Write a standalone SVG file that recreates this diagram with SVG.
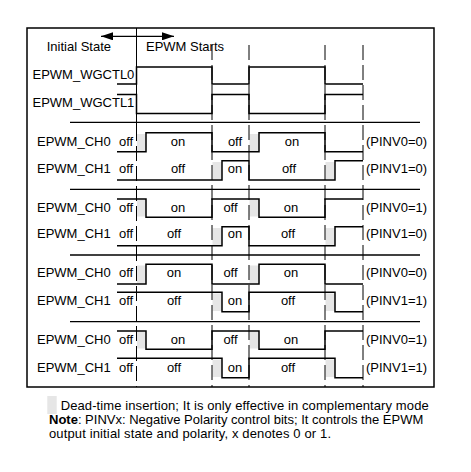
<svg xmlns="http://www.w3.org/2000/svg" width="471" height="472" viewBox="0 0 471 472">
<style>
text{font-family:"Liberation Sans",Arial,sans-serif;font-size:13px;fill:#000}
.w{fill:none;stroke:#000;stroke-width:1.5}
.sep{stroke:#000;stroke-width:1.3}
.dl{stroke:#000;stroke-width:1;stroke-dasharray:15 5}
.dt{fill:#e6e6e6}
.m{text-anchor:middle}
</style>
<defs>
<marker id="ah" viewBox="0 0 12 8" refX="12" refY="4" markerWidth="12" markerHeight="8" markerUnits="userSpaceOnUse" orient="auto-start-reverse">
<path d="M0,0 L12,4 L0,8 Z" fill="#000"/>
</marker>
</defs>
<rect x="0" y="0" width="471" height="472" fill="#fff"/>
<rect x="27" y="28" width="407" height="359" fill="none" stroke="#000" stroke-width="1.5"/>

<g id="deadtime-shading">
<rect class="dt" x="137" y="134" width="9" height="17"/>
<rect class="dt" x="249.5" y="134" width="9.5" height="17"/>
<rect class="dt" x="212.5" y="162" width="9.5" height="17"/>
<rect class="dt" x="325.5" y="162" width="9.5" height="17"/>
<rect class="dt" x="137" y="200" width="9" height="16.5"/>
<rect class="dt" x="249.5" y="200" width="9.5" height="16.5"/>
<rect class="dt" x="212.5" y="228" width="9.5" height="17"/>
<rect class="dt" x="325.5" y="228" width="9.5" height="17"/>
<rect class="dt" x="137" y="265.5" width="9" height="18"/>
<rect class="dt" x="249.5" y="265.5" width="9.5" height="18"/>
<rect class="dt" x="212.5" y="293.5" width="9.5" height="17.5"/>
<rect class="dt" x="325.5" y="293.5" width="9.5" height="17.5"/>
<rect class="dt" x="137" y="332" width="9" height="16.5"/>
<rect class="dt" x="249.5" y="332" width="9.5" height="16.5"/>
<rect class="dt" x="212.5" y="359.5" width="9.5" height="17.5"/>
<rect class="dt" x="325.5" y="359.5" width="9.5" height="17.5"/>
</g>

<g id="connectors">
<line x1="136.5" y1="28" x2="136.5" y2="126" stroke="#000" stroke-width="1"/>
<line class="dl" x1="136.5" y1="126" x2="136.5" y2="387"/>
<line class="dl" x1="212" y1="45" x2="212" y2="387"/>
<line class="dl" x1="249" y1="45" x2="249" y2="387"/>
<line class="dl" x1="325" y1="45" x2="325" y2="387"/>
<line class="dl" x1="363" y1="45" x2="363" y2="387"/>
<line x1="101" y1="36.3" x2="174" y2="36.3" stroke="#000" stroke-width="1.2" marker-start="url(#ah)" marker-end="url(#ah)"/>
<line class="sep" x1="70" y1="122.3" x2="420" y2="122.3"/>
<line class="sep" x1="70" y1="189.3" x2="420" y2="189.3"/>
<line class="sep" x1="70" y1="255" x2="420" y2="255"/>
<line class="sep" x1="70" y1="321.7" x2="420" y2="321.7"/>
</g>

<g id="header">
<text x="46.7" y="50.5">Initial State</text>
<text x="146" y="50.5">EPWM Starts</text>
</g>

<g id="wgctl0">
<text x="32.5" y="79.3">EPWM_WGCTL0</text>
<path class="w" d="M117,84 H136.5 V67 H212 V84 H249 V67 H325 V84 H363"/>
</g>
<g id="wgctl1">
<text x="32.5" y="107.3">EPWM_WGCTL1</text>
<path class="w" d="M117,94.5 H136.5 V113.5 H212 V94.5 H249 V113.5 H325 V94.5 H363"/>
</g>

<g id="g1-ch0">
<text x="37" y="145.5">EPWM_CH0</text>
<text x="119" y="145.5">off</text>
<text class="m" x="178" y="145.5">on</text>
<text class="m" x="235" y="145.5">off</text>
<text class="m" x="292" y="145.5">on</text>
<text x="366" y="145.5">(PINV0=0)</text>
<path class="w" d="M117,151.7 H146 V132.7 H212 V151.7 H259 V132.7 H325 V151.7 H363"/>
</g>
<g id="g1-ch1">
<text x="37" y="173">EPWM_CH1</text>
<text x="119" y="173">off</text>
<text class="m" x="178" y="173">off</text>
<text class="m" x="235" y="173">on</text>
<text class="m" x="289" y="173">off</text>
<text x="366" y="173">(PINV1=0)</text>
<path class="w" d="M117,180 H222 V160.7 H249 V180 H335 V160.7 H363"/>
</g>

<g id="g2-ch0">
<text x="37" y="211.5">EPWM_CH0</text>
<text x="119" y="211.5">off</text>
<text class="m" x="178" y="211.5">on</text>
<text class="m" x="230.5" y="211.5">off</text>
<text class="m" x="291" y="211.5">on</text>
<text x="366" y="211.5">(PINV0=1)</text>
<path class="w" d="M117,199 H146 V217.3 H212 V199 H259 V217.3 H325 V199 H363"/>
</g>
<g id="g2-ch1">
<text x="37" y="238.3">EPWM_CH1</text>
<text x="119" y="238.3">off</text>
<text class="m" x="174" y="238.3">off</text>
<text class="m" x="235" y="238.3">on</text>
<text class="m" x="288" y="238.3">off</text>
<text x="366" y="238.3">(PINV1=0)</text>
<path class="w" d="M117,245.7 H222 V226.7 H249 V245.7 H335 V226.7 H363"/>
</g>

<g id="g3-ch0">
<text x="37" y="277.3">EPWM_CH0</text>
<text x="119" y="277.3">off</text>
<text class="m" x="174" y="277.3">on</text>
<text class="m" x="230.5" y="277.3">off</text>
<text class="m" x="291" y="277.3">on</text>
<text x="366" y="277.3">(PINV0=0)</text>
<path class="w" d="M117,284 H146 V264.3 H212 V284 H259 V264.3 H325 V284 H363"/>
</g>
<g id="g3-ch1">
<text x="37" y="305">EPWM_CH1</text>
<text x="119" y="305">off</text>
<text class="m" x="174" y="305">off</text>
<text class="m" x="235" y="305">on</text>
<text class="m" x="288" y="305">off</text>
<text x="366" y="305">(PINV1=1)</text>
<path class="w" d="M117,292.3 H222 V311.7 H249 V292.3 H335 V311.7 H363"/>
</g>

<g id="g4-ch0">
<text x="37" y="344">EPWM_CH0</text>
<text x="119" y="344">off</text>
<text class="m" x="178" y="344">on</text>
<text class="m" x="230.5" y="344">off</text>
<text class="m" x="291" y="344">on</text>
<text x="366" y="344">(PINV0=1)</text>
<path class="w" d="M117,331 H146 V349.3 H212 V331 H259 V349.3 H325 V331 H363"/>
</g>
<g id="g4-ch1">
<text x="37" y="371.5">EPWM_CH1</text>
<text x="119" y="371.5">off</text>
<text class="m" x="174" y="371.5">off</text>
<text class="m" x="235" y="371.5">on</text>
<text class="m" x="288" y="371.5">off</text>
<text x="366" y="371.5">(PINV1=1)</text>
<path class="w" d="M117,358.3 H222 V377.7 H249 V358.3 H335 V377.7 H363"/>
</g>

<g id="legend">
<rect x="47.3" y="396" width="9.4" height="18" fill="#e6e6e6"/>
<text x="60.7" y="410" textLength="368" lengthAdjust="spacing">Dead-time insertion; It is only effective in complementary mode</text>
<text x="49" y="424"><tspan font-weight="bold">Note</tspan>: PINVx: Negative Polarity control bits; It controls the EPWM</text>
<text x="49" y="437.5" textLength="282" lengthAdjust="spacing">output initial state and polarity, x denotes 0 or 1.</text>
</g>
</svg>
